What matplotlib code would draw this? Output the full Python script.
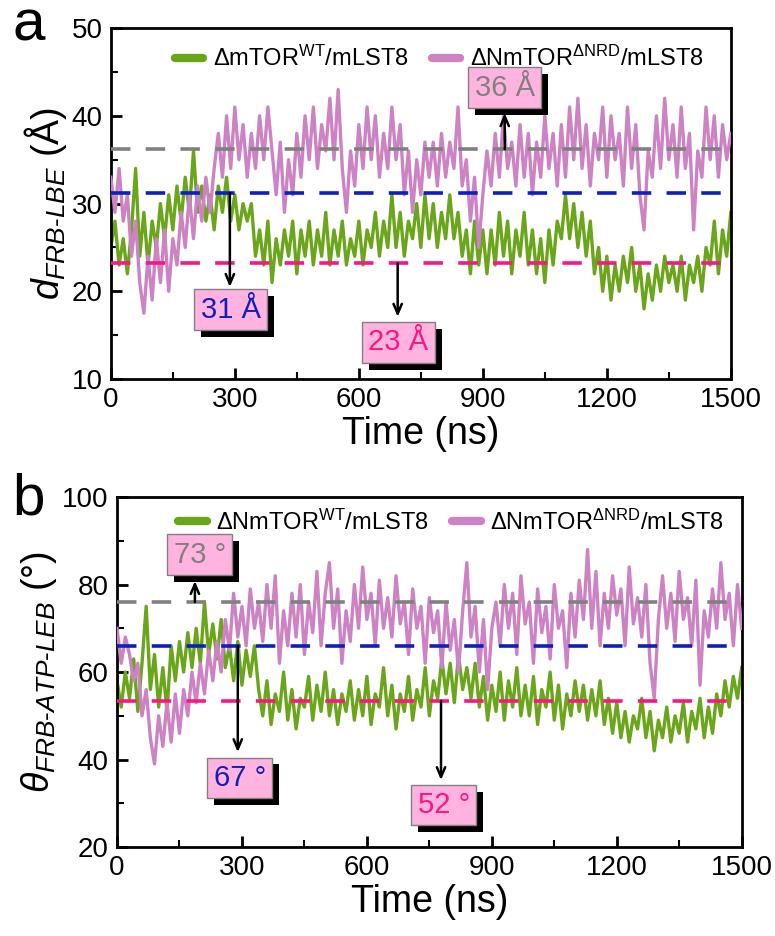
import numpy as np
import matplotlib
matplotlib.use("Agg")
import matplotlib.pyplot as plt
import matplotlib.patheffects as pe
from matplotlib.lines import Line2D
from matplotlib.ticker import MultipleLocator

plt.rcParams['font.family'] = ['Liberation Sans', 'DejaVu Sans']
plt.rcParams['mathtext.fontset'] = 'custom'
plt.rcParams['mathtext.rm'] = 'Liberation Sans'
plt.rcParams['mathtext.it'] = 'Liberation Sans:italic'
plt.rcParams['mathtext.bf'] = 'Liberation Sans:bold'
plt.rcParams['lines.scale_dashes'] = False

# time axis (ns), one sample per 10 ns
time_ns = np.arange(0, 1501, 10)

# panel a: d_FRB-LBE (Angstrom)
dist_wt = [25, 28, 23, 26, 22, 27, 34, 24, 29, 23, 28, 25,
           30, 26, 31, 27, 32, 28, 33, 29, 36, 29,
           32, 28, 31, 27, 32, 29, 33, 28, 31, 27, 30, 28, 30,
           24, 27, 23, 28, 21, 26, 23, 27, 24, 28, 22, 27, 24, 28, 23, 27, 24, 29, 23,
           27, 24, 28, 23, 26, 24, 28, 23, 27, 25, 29, 24, 28, 25, 31, 25, 29, 24, 28,
           26, 30, 25, 31, 26, 30, 25, 29, 26, 31, 26,
           29, 24, 27, 22, 28, 23, 27, 22,
           27, 23, 29, 24, 28, 22, 27, 24, 29, 23,
           27, 22, 26, 21, 27, 23, 28,
           26, 31, 26, 30, 25, 29, 24, 28,
           22, 25, 20, 24, 19, 23, 20, 24, 21, 25, 20, 23, 18, 22, 19, 23, 20, 24, 21, 23,
           20, 24, 19, 23, 21, 24, 20, 25,
           23, 28, 22, 27, 24, 29]
dist_nrd = [33, 29, 34, 28, 31, 24, 28, 21,
            17.5, 24, 19, 26, 21, 27, 20, 26,
            23, 29, 25, 31, 26, 32, 28, 33, 29, 34,
            38, 33, 40, 34, 41, 35, 39, 33, 38, 34, 40, 35, 41, 36, 31, 37, 29, 35, 31,
            38, 33, 40, 35, 41, 34, 39, 36, 42, 35, 43, 34,
            29, 36, 32, 39, 34, 41, 35, 40, 33, 38, 34, 41, 35, 39,
            31, 36, 29, 35, 31, 37,
            33, 37, 32, 38, 33, 37, 34, 41,
            32, 35, 28, 33, 25, 31,
            36, 32, 38, 33, 40, 34, 37, 32, 39, 33, 38, 31, 37, 33, 40, 34, 38, 32,
            39, 33, 41, 35, 42, 34, 39, 32, 38, 35, 41, 33, 40, 35, 38, 32, 41, 34, 39, 31,
            27, 36, 33, 40, 34, 42, 35, 39, 33, 41, 34, 38, 27, 36, 33, 41, 35, 40, 33, 39,
            35, 38]

# panel b: theta_FRB-ATP-LEB (degree)
angle_wt = [58, 52, 60, 54, 63, 51, 62,
            75, 56, 64, 52, 61, 51, 66,
            58, 67, 60, 69, 61, 70, 62, 76, 64, 71, 63, 72, 61,
            66, 58, 67, 57, 65, 59, 66,
            56, 50, 58, 48, 55, 51, 60, 49, 56, 47, 54, 52, 59, 49, 57, 51, 60, 50, 56, 48,
            55, 51, 58, 49, 56, 50, 59, 48, 55, 52, 61, 50, 57, 47, 55, 51, 59, 49, 56, 52,
            61, 50, 58,
            54, 63, 55, 62, 53, 64, 56, 61, 54, 62,
            52, 59, 49, 57, 51, 60, 49, 58, 52, 61, 50, 57,
            50, 59, 48, 56, 52, 60, 49, 57, 47, 55, 50, 58,
            51, 57, 49, 56, 50, 58, 48, 54,
            46, 53, 45, 51, 44, 50, 47, 54, 45, 51, 42, 49, 45, 52, 44, 50, 46, 53, 44, 51,
            47, 54, 45, 52, 46,
            55, 50, 58, 52, 59, 54, 61]
angle_nrd = [70, 62, 68, 64, 58, 62, 50, 56,
             45, 39, 50, 43, 53, 44, 55, 46,
             56, 50, 60, 53, 62, 55, 65, 58, 67, 60,
             72, 65, 78, 68, 75, 66, 79, 70, 76, 67, 80,
             70, 82, 62, 74, 66, 78,
             68, 80, 64, 76, 69, 83, 66, 78, 85, 70, 79, 62, 74, 67,
             80, 70, 84, 72, 78, 66, 81, 70, 77, 68, 82, 71, 76, 64, 79, 70, 75, 62, 77, 69,
             74, 61, 76, 65, 72, 60, 74,
             85, 68, 75, 60, 72, 56, 70,
             76, 66, 80, 70, 78, 64, 82, 71, 76, 62, 79, 69, 75, 63, 80, 70, 74, 61, 78, 68,
             81, 72, 88, 70, 83, 66,
             78, 70, 82, 73, 79, 66, 84, 71, 77, 68, 80, 62, 54, 72, 82, 70, 78, 67, 83, 72,
             77, 66, 81, 57, 74, 68, 79, 70, 85, 72, 78, 66, 80, 70]

# reference levels and tags
dist_levels = [36.2, 31.2, 23.2]
angle_levels = [76.0, 66.0, 53.4]
dist_tags = ['36 Å', '31 Å', '23 Å']
angle_tags = ['73 °', '67 °', '52 °']

GREEN = '#6aa61a'
PURPLE = '#cc82c3'
LEVEL_COLORS = ['#808080', '#0d1fbf', '#ff1483']
TAG_FACE = '#ffb3de'


def tag(ax, x, y, s, color):
    t = ax.text(x, y, s, color=color, fontsize=21, ha='center', va='center',
                bbox=dict(boxstyle='square,pad=0.22', fc=TAG_FACE, ec='#808080', lw=1), zorder=7)
    t.get_bbox_patch().set_path_effects(
        [pe.SimplePatchShadow(offset=(5, -5), shadow_rgbFace='black', alpha=1.0), pe.Normal()])


def arrow(ax, x, y0, y1):
    ax.annotate('', xy=(x, y1), xytext=(x, y0),
                arrowprops=dict(arrowstyle='->,head_length=0.7,head_width=0.3', color='black',
                                lw=1.8, shrinkA=0, shrinkB=0), zorder=8)


def style_axes(ax, ymin, ymax, ymajor, yminor):
    ax.set_xlim(0, 1500)
    ax.set_ylim(ymin, ymax)
    ax.xaxis.set_major_locator(MultipleLocator(300))
    ax.xaxis.set_minor_locator(MultipleLocator(150))
    ax.yaxis.set_major_locator(MultipleLocator(ymajor))
    ax.yaxis.set_minor_locator(MultipleLocator(yminor))
    ax.tick_params(which='major', direction='in', length=8, width=2, labelsize=20, pad=6)
    ax.tick_params(which='minor', direction='in', length=5, width=1.5)
    for sp in ax.spines.values():
        sp.set_linewidth(2)
    ax.set_xlabel('Time (ns)', fontsize=27, labelpad=2)


fig = plt.figure(figsize=(7.75, 9.36), dpi=100)
ax1 = fig.add_axes([0.143, 0.595, 0.8, 0.375])
ax2 = fig.add_axes([0.151, 0.095, 0.806, 0.374])

# ---- panel a
ax1.plot(time_ns, dist_wt, color=GREEN, lw=2.4, zorder=2)
ax1.plot(time_ns, dist_nrd, color=PURPLE, lw=2.4, zorder=3)
for lev, c in zip(dist_levels, LEVEL_COLORS):
    ax1.axhline(lev, color=c, lw=2.6, dashes=(14, 11), zorder=4)
style_axes(ax1, 10, 50, 10, 5)
ax1.set_ylabel(r'$d_{FRB\text{-}LBE}$ (Å)', fontsize=27, labelpad=2)
arrow(ax1, 953, 36.2, 40.3)
arrow(ax1, 288, 31.2, 20.5)
arrow(ax1, 694, 23.2, 17.1)
tag(ax1, 953, 43.2, dist_tags[0], LEVEL_COLORS[0])
tag(ax1, 290, 17.9, dist_tags[1], LEVEL_COLORS[1])
tag(ax1, 695, 14.2, dist_tags[2], LEVEL_COLORS[2])
h = [Line2D([], [], color=GREEN, lw=6, solid_capstyle='round'),
     Line2D([], [], color=PURPLE, lw=6, solid_capstyle='round')]
ax1.legend(h, ['ΔmTOR$^{\\mathrm{WT}}$/mLST8', 'ΔNmTOR$^{\\mathrm{ΔNRD}}$/mLST8'],
           ncol=2, loc='upper center', bbox_to_anchor=(0.53, 1.01), frameon=False,
           fontsize=17, handlelength=1.2, handletextpad=0.4, columnspacing=1.0)

# ---- panel b
ax2.plot(time_ns, angle_wt, color=GREEN, lw=2.4, zorder=2)
ax2.plot(time_ns, angle_nrd, color=PURPLE, lw=2.4, zorder=3)
for lev, c in zip(angle_levels, LEVEL_COLORS):
    ax2.axhline(lev, color=c, lw=2.6, dashes=(14, 11), zorder=4)
style_axes(ax2, 20, 100, 20, 10)
ax2.set_ylabel(r'$\theta_{FRB\text{-}ATP\text{-}LEB}$ (°)', fontsize=27, labelpad=2)
arrow(ax2, 187, 76.0, 80.8)
arrow(ax2, 290, 66.0, 41.7)
arrow(ax2, 778, 53.4, 35.3)
tag(ax2, 199, 86.8, angle_tags[0], LEVEL_COLORS[0])
tag(ax2, 295, 35.8, angle_tags[1], LEVEL_COLORS[1])
tag(ax2, 785, 29.6, angle_tags[2], LEVEL_COLORS[2])
ax2.legend(h, ['ΔNmTOR$^{\\mathrm{WT}}$/mLST8', 'ΔNmTOR$^{\\mathrm{ΔNRD}}$/mLST8'],
           ncol=2, loc='upper center', bbox_to_anchor=(0.535, 1.025), frameon=False,
           fontsize=17, handlelength=1.2, handletextpad=0.4, columnspacing=1.0)

fig.text(0.016, 0.957, 'a', fontsize=42, va='baseline')
fig.text(0.016, 0.45, 'b', fontsize=42, va='baseline')

fig.savefig('out.png', dpi=100)
